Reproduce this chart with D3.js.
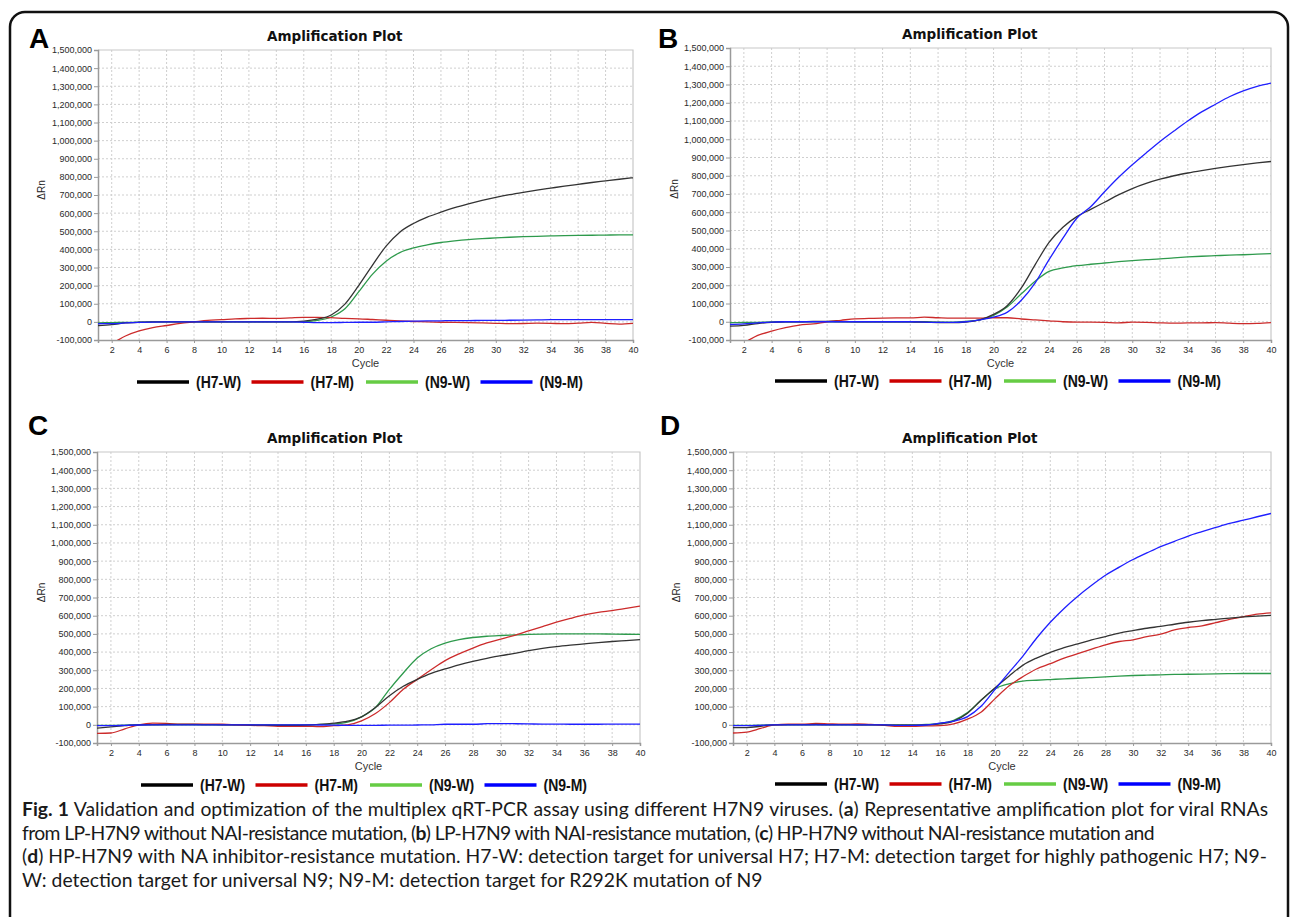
<!DOCTYPE html>
<html>
<head>
<meta charset="utf-8">
<script src="https://cdn.jsdelivr.net/npm/d3@7"></script>
<style>
  body { margin: 0; background: #fff; }
</style>
</head>
<body>
<script>
// cycles and tick values
const cycles = [1,2,3,4,5,6,7,8,9,10,11,12,13,14,15,16,17,18,19,20,21,22,23,24,25,26,27,28,29,30,31,32,33,34,35,36,37,38,39,40];
const xTicks = [2,4,6,8,10,12,14,16,18,20,22,24,26,28,30,32,34,36,38,40];
const yTicks = [-100000,0,100000,200000,300000,400000,500000,600000,700000,800000,900000,1000000,1100000,1200000,1300000,1400000,1500000];
const seriesNames = ['(H7-W)', '(H7-M)', '(N9-W)', '(N9-M)'];

// ΔRn values in thousands, cycle 1..40
// panel A
const aH7W = [-20,-15,-6,-2,0,0,0,0,0,0,0,0,0,0,0,4,15,38,98,200,312,418,495,543,578,605,630,651,670,687,702,715,727,738,749,759,769,778,787,795];
const aH7M = [-150,-120,-78,-50,-32,-20,-8,0,8,12,17,19,20,19,22,25,25,23,19,17,13,9,5,2,0,-2,-3,-4,-6,-8,-10,-9,-7,-8,-10,-7,-3,-8,-12,-8];
const aN9W = [-5,-4,-3,-2,0,0,0,0,0,0,0,0,0,0,0,0,8,27,72,165,262,335,382,408,425,438,447,454,459,463,467,470,472,474,476,477,478,479,480,480];
const aN9M = [-10,-10,-6,-3,-1,0,0,0,0,0,0,0,0,0,0,-2,-4,-4,-3,-2,-2,0,2,4,5,6,7,7,8,8,9,10,11,12,12,12,12,12,12,12];
// panel B
const bH7W = [-24,-20,-10,-3,0,0,2,2,1,0,0,0,0,-1,-2,-4,-5,-2,10,40,89,185,313,435,518,576,616,655,695,730,758,781,800,815,828,840,851,861,870,878];
const bH7M = [-150,-115,-75,-51,-32,-18,-12,0,8,16,18,20,21,21,25,22,20,20,20,22,22,15,10,5,0,-2,-2,-3,-6,-2,-3,-6,-8,-6,-6,-5,-8,-10,-9,-5];
const bN9W = [-5,-4,-3,-1,0,0,0,0,0,0,0,0,0,0,0,-2,-2,2,10,35,82,153,222,276,295,307,315,322,329,335,340,344,350,355,359,362,365,367,370,373];
const bN9M = [-15,-12,-6,-2,0,0,0,0,0,0,0,0,0,0,-2,-3,-3,0,10,25,53,118,213,340,458,567,630,712,790,860,925,988,1045,1100,1150,1192,1233,1265,1290,1308];
// panel C
const cH7W = [-18,-11,-5,0,1,2,2,2,1,0,0,-1,-2,-3,-3,-2,2,9,20,44,95,160,212,250,283,307,330,349,365,380,393,408,420,430,438,445,452,458,463,468];
const cH7M = [-47,-45,-22,0,9,8,3,3,3,3,0,-3,-5,-8,-8,-8,-10,-5,0,22,62,122,195,250,303,353,390,422,450,471,492,516,540,564,585,604,618,628,640,653];
const cN9W = [-3,-3,-2,0,0,0,0,0,0,0,0,0,0,0,0,0,2,5,15,44,95,195,285,367,418,449,468,480,487,491,494,497,499,500,500,500,500,499,498,497];
const cN9M = [-5,-5,-3,-1,0,0,0,0,0,0,0,0,0,0,0,0,-1,-2,-3,-3,-3,-2,-2,-1,0,3,3,3,6,7,6,5,4,4,3,3,3,4,4,4];
// panel D
const dH7W = [-15,-15,-8,0,1,1,2,1,1,0,0,-1,-2,-2,0,5,20,64,136,204,267,327,367,398,425,445,467,485,504,518,531,541,553,564,573,580,587,593,598,602];
const dH7M = [-45,-40,-20,0,3,3,8,5,3,5,2,-3,-8,-8,-6,-5,5,31,71,144,213,264,307,336,367,391,416,440,458,467,485,498,522,535,544,562,580,595,609,616];
const dN9W = [-3,-3,-2,0,0,0,0,0,0,0,0,0,0,-1,2,8,25,67,136,198,225,240,245,249,253,256,260,264,268,271,273,275,277,278,279,280,281,282,282,282];
const dN9M = [-5,-5,-3,0,0,0,0,0,0,0,0,0,-3,-3,-1,9,20,45,103,195,287,376,476,564,640,707,767,822,867,909,945,980,1009,1038,1062,1085,1107,1125,1144,1162];

const lineColors = ['#333333', '#cc2b2b', '#2e9a4c', '#1f1fff'];
const legendColors = ['#000000', '#cc0000', '#66cc44', '#0000ff'];

const panels = [
  { letter: 'A', data: [aH7W, aH7M, aN9W, aN9M], left: 98, right: 633, top: 50, bottom: 340, lx: 29, ly: 48, tx: 267, ty: 41, yl: 45, legX: 137, legY: 382 },
  { letter: 'B', data: [bH7W, bH7M, bN9W, bN9M], left: 730, right: 1271, top: 48, bottom: 340, lx: 658, ly: 48, tx: 902, ty: 39, yl: 678, legX: 775, legY: 381 },
  { letter: 'C', data: [cH7W, cH7M, cN9W, cN9M], left: 97, right: 640, top: 452, bottom: 743, lx: 28, ly: 435, tx: 267, ty: 443, yl: 45, legX: 141, legY: 785 },
  { letter: 'D', data: [dH7W, dH7M, dN9W, dN9M], left: 733, right: 1271, top: 452, bottom: 743, lx: 660, ly: 435, tx: 902, ty: 443, yl: 680, legX: 775, legY: 784 }
];

const SANS = '"Liberation Sans", Arial, sans-serif';
const W = 1292, H = 917;
const svg = d3.select('body').append('svg').attr('width', W).attr('height', H)
  .style('font-family', SANS);

// outer frame
svg.append('rect').attr('x', 10).attr('y', 12).attr('width', 1278).attr('height', 960)
   .attr('rx', 15).attr('fill', 'none').attr('stroke', '#111').attr('stroke-width', 2.5);

const fmt = d3.formatLocale({ decimal: '.', thousands: ',', grouping: [3], currency: ['', ''], minus: '-' }).format(',');

panels.forEach((p, pi) => {
  const x = d3.scaleLinear().domain([1, 40]).range([p.left, p.right]);
  const y = d3.scaleLinear().domain([-100000, 1500000]).range([p.bottom, p.top]);
  const g = svg.append('g');

  // grid
  g.append('g').selectAll('line').data(yTicks.slice(1, -1)).enter().append('line')
   .attr('x1', p.left).attr('x2', p.right).attr('y1', d => y(d)).attr('y2', d => y(d))
   .attr('stroke', '#cfcfcf').attr('stroke-dasharray', '2,2');
  g.append('g').selectAll('line').data(xTicks.slice(0, -1)).enter().append('line')
   .attr('x1', d => x(d)).attr('x2', d => x(d)).attr('y1', p.top).attr('y2', p.bottom)
   .attr('stroke', '#cfcfcf').attr('stroke-dasharray', '2,2');

  // top and right border
  g.append('path').attr('d', `M${p.left},${p.top}H${p.right}V${p.bottom}`)
   .attr('fill', 'none').attr('stroke', '#c8c8c8').attr('stroke-width', 1.2);

  // axes
  const yAxis = g.append('g').attr('transform', `translate(${p.left},0)`)
    .call(d3.axisLeft(y).tickValues(yTicks).tickFormat(fmt).tickSize(4).tickPadding(2));
  const xAxis = g.append('g').attr('transform', `translate(0,${p.bottom})`)
    .call(d3.axisBottom(x).tickValues(xTicks).tickFormat(d3.format('d')).tickSize(3).tickPadding(4));
  [yAxis, xAxis].forEach(a => {
    a.attr('font-family', null).attr('font-size', null);
    a.select('.domain').attr('stroke', '#9a9a9a').attr('stroke-width', 1.5);
    a.selectAll('.tick line').attr('stroke', '#9a9a9a');
    a.selectAll('text').style('font-family', SANS).style('font-size', '9px').attr('fill', '#2a2a2a');
  });

  // clip
  const clipId = 'clip' + pi;
  svg.append('clipPath').attr('id', clipId).append('rect')
     .attr('x', p.left).attr('y', p.top).attr('width', p.right - p.left).attr('height', p.bottom - p.top);

  const line = d3.line().x((d, i) => x(cycles[i])).y(d => y(d * 1000)).curve(d3.curveMonotoneX);
  const lg = g.append('g').attr('clip-path', `url(#${clipId})`);
  // draw order: green, red, black, blue
  [2, 1, 0, 3].forEach(k => {
    lg.append('path').datum(p.data[k]).attr('d', line)
      .attr('fill', 'none').attr('stroke', lineColors[k]).attr('stroke-width', 1.3);
  });

  // labels
  svg.append('text').attr('x', p.lx).attr('y', p.ly).text(p.letter)
     .style('font-size', '28px').style('font-weight', 'bold').attr('fill', '#000');
  svg.append('text').attr('x', p.tx).attr('y', p.ty).text('Amplification Plot')
     .style('font-family', '"DejaVu Sans", sans-serif').style('font-size', '13.5px')
     .style('font-weight', 'bold').attr('fill', '#111');
  svg.append('text').attr('transform', `translate(${p.yl},${(p.top + p.bottom) / 2 - 5}) rotate(-90)`)
     .attr('text-anchor', 'middle').style('font-size', '10px').attr('fill', '#222').text('ΔRn');
  svg.append('text').attr('x', (p.left + p.right) / 2).attr('y', p.bottom + 27)
     .attr('text-anchor', 'middle').style('font-size', '11px').attr('fill', '#333').text('Cycle');

  // legend
  const leg = svg.append('g').attr('transform', `translate(${p.legX},${p.legY})`);
  seriesNames.forEach((name, k) => {
    const ox = k * 114.5;
    leg.append('line').attr('x1', ox).attr('x2', ox + 52).attr('y1', 0).attr('y2', 0)
       .attr('stroke', legendColors[k]).attr('stroke-width', 3.5);
    leg.append('text').attr('x', ox + 59).attr('y', 6).text(name)
       .attr('transform', `translate(${ox + 59},6) scale(1,1.12) translate(${-(ox + 59)},-6)`)
       .style('font-size', '14px').style('font-weight', 'bold').attr('fill', '#111');
  });
});

// caption
const capLines = [
  [['Fig. 1', true], [' Validation and optimization of the multiplex qRT-PCR assay using different H7N9 viruses. (', false], ['a', true], [') Representative amplification plot for viral RNAs', false]],
  [['from LP-H7N9 without NAI-resistance mutation, (', false], ['b', true], [') LP-H7N9 with NAI-resistance mutation, (', false], ['c', true], [') HP-H7N9 without NAI-resistance mutation and', false]],
  [['(', false], ['d', true], [') HP-H7N9 with NA inhibitor-resistance mutation. H7-W: detection target for universal H7; H7-M: detection target for highly pathogenic H7; N9-', false]],
  [['W: detection target for universal N9; N9-M: detection target for R292K mutation of N9', false]]
];
// right edge of each caption line in the figure
const capEnds = [1268, 1155, 1268, 763];
const capTexts = capLines.map((parts, i) => {
  const t = svg.append('text').attr('x', 22).attr('y', 816 + i * 23.5)
    .style('font-family', 'Lato, sans-serif').style('font-size', '17px').attr('fill', '#1a1a1a');
  parts.forEach(([s, b]) => {
    t.append('tspan').text(s).style('font-weight', b ? 'bold' : 'normal');
  });
  return t;
});
// size from the last line, then fit the others to their ends
const natural = capTexts[3].node().getComputedTextLength();
const capSize = 17 * (capEnds[3] - 22) / natural;
capTexts.forEach((t, i) => {
  t.style('font-size', capSize + 'px');
  if (i === 3) return;
  const w = t.node().getComputedTextLength();
  const str = capLines[i].map(d => d[0]).join('');
  const diff = capEnds[i] - 22 - w;
  if (diff >= 0) {
    t.style('word-spacing', (diff / (str.split(' ').length - 1)) + 'px');
  } else {
    t.style('letter-spacing', (diff / str.length) + 'px');
  }
});
</script>
</body>
</html>
